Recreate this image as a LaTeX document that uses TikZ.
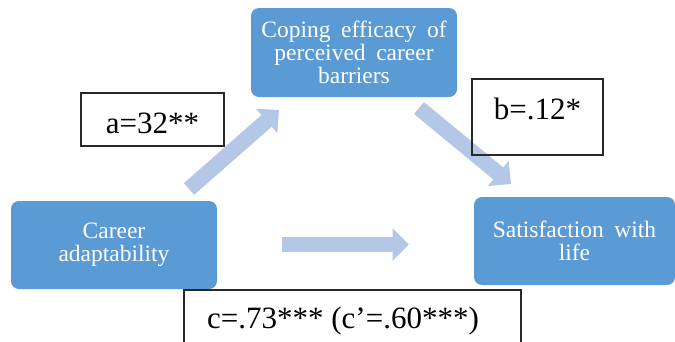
\documentclass[tikz,border=0pt]{standalone}
\usepackage{fontspec}
\setmainfont{Liberation Serif}
\newfontfamily\boxfont[WordSpace=1.8]{Liberation Serif}
\usetikzlibrary{arrows.meta}
\definecolor{boxblue}{RGB}{91,155,213}
\definecolor{arrowblue}{RGB}{180,199,231}
\definecolor{frameline}{RGB}{40,40,40}
\tikzset{
  bluebox/.style={fill=boxblue, rounded corners=8pt, text=white, align=center,
    inner sep=0pt, font=\boxfont\fontsize{23.5}{22.8}\selectfont},
  labelbox/.style={draw=frameline, line width=1.1pt, inner sep=0pt},
  labeltext/.style={anchor=base, inner sep=0pt, font=\fontsize{31}{31}\selectfont},
  blockarrow/.style={draw=arrowblue, line width=15.5pt,
    -{Triangle[width=31.5pt,length=16.5pt,fill=arrowblue]}}
}
\begin{document}
\begin{tikzpicture}[x=1pt,y=-1pt]
\useasboundingbox (0,0) rectangle (675,341);
\clip (0,0) rectangle (675,341);
\fill[white] (0,0) rectangle (675,341);
% main boxes
\node[bluebox, minimum width=206pt, minimum height=88pt] (ca) at (114,245) {Career\\adaptability};
\node[bluebox, minimum width=206pt, minimum height=89pt] (ce) at (354,52.5) {Coping efficacy of\\perceived career\\barriers};
\node[bluebox, minimum width=201pt, minimum height=88pt] (sl) at (574.5,241) {Satisfaction with\\life};
% arrows
\coordinate (h1) at (282,244.5);
\coordinate (h2) at (409,244.5);
\coordinate (u1) at (189,189);
\coordinate (u2) at (279,110);
\coordinate (d1) at (419,108);
\coordinate (d2) at (511,184);
\draw[blockarrow] (h1) -- (h2);
\draw[blockarrow] (u1) -- (u2);
\draw[blockarrow] (d1) -- (d2);
% label boxes
\node[labelbox, minimum width=143pt, minimum height=53pt] (abox) at (152.5,119.5) {};
\node[labeltext] (atext) at (152.5,133) {a=32**};
\node[labelbox, minimum width=131pt, minimum height=76pt] (bbox) at (537.5,117) {};
\node[labeltext] (btext) at (537.5,119) {b=.12*};
\node[labelbox, minimum width=337pt, minimum height=80pt] (cbox) at (352.5,330) {};
\node[labeltext] (ctext) at (343,328) {c=.73*** (c’=.60***)};
\end{tikzpicture}
\end{document}
